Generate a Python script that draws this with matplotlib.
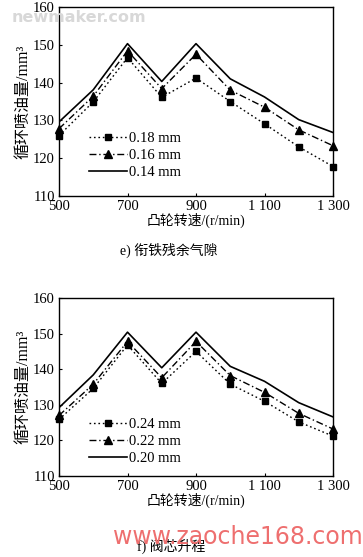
import matplotlib
matplotlib.use("Agg")
import matplotlib.pyplot as plt

plt.rcParams['font.family'] = ['Liberation Serif', 'Noto Sans CJK SC']
plt.rcParams['axes.unicode_minus'] = False

# cam speed (r/min)
speed = [500, 600, 700, 800, 900, 1000, 1100, 1200, 1300]
xtick_vals = [500, 700, 900, 1100, 1300]
xtick_labels = ["500", "700", "900", "1 100", "1 300"]
ytick_vals = [110, 120, 130, 140, 150, 160]

# e) armature residual air gap
gap_labels = ["0.18 mm", "0.16 mm", "0.14 mm"]
gap_018 = [126.0, 134.9, 146.6, 136.1, 141.2, 135.0, 129.1, 123.0, 117.8]
gap_016 = [127.8, 136.4, 148.4, 138.4, 147.5, 138.0, 133.5, 127.5, 123.3]
gap_014 = [129.6, 138.1, 150.3, 140.3, 150.3, 141.0, 136.2, 130.2, 126.8]

# f) valve lift
lift_labels = ["0.24 mm", "0.22 mm", "0.20 mm"]
lift_024 = [125.9, 134.6, 146.8, 136.0, 145.0, 135.8, 131.0, 125.2, 121.2]
lift_022 = [127.0, 135.8, 147.8, 137.6, 147.8, 138.2, 133.5, 127.6, 123.2]
lift_020 = [129.2, 138.4, 150.4, 140.4, 150.4, 140.8, 136.6, 130.6, 126.6]

fig = plt.figure(figsize=(3.63, 5.57), dpi=100)
W, H = 363, 557


def draw(ax, s1, s2, s3, labels):
    l1, = ax.plot(speed, s1, color='black', linestyle=(0, (1.2, 2.0)), linewidth=1.0,
                  marker='s', markersize=4.8, clip_on=False)
    l2, = ax.plot(speed, s2, color='black', linestyle=(0, (5, 2, 1, 2)), linewidth=1.0,
                  marker='^', markersize=5.2, clip_on=False)
    l3, = ax.plot(speed, s3, color='black', linestyle='-', linewidth=1.2)
    ax.set_xlim(500, 1300)
    ax.set_ylim(110, 160)
    ax.set_xticks(xtick_vals)
    ax.set_xticklabels(xtick_labels)
    ax.set_yticks(ytick_vals)
    ax.tick_params(direction='in', length=2, labelsize=10.5, pad=3)
    for sp in ax.spines.values():
        sp.set_linewidth(1.0)
    ax.set_ylabel("循环喷油量/mm³", fontsize=11.5, labelpad=1)
    ax.set_xlabel("凸轮转速/(r/min)", fontsize=10, labelpad=0)
    leg = ax.legend([l1, l2, l3], labels, loc='upper left', frameon=False, fontsize=10.5,
                    handlelength=2.6, handletextpad=0.15, labelspacing=0.25,
                    borderaxespad=0, borderpad=0)
    return leg


ax1 = fig.add_axes([59 / W, 1 - 196 / H, 274 / W, 189 / H])
leg1 = draw(ax1, gap_018, gap_016, gap_014, gap_labels)
leg1.set_bbox_to_anchor((89 / W, 1 - 132 / H), transform=fig.transFigure)

ax2 = fig.add_axes([59 / W, 1 - 476 / H, 274 / W, 178 / H])
leg2 = draw(ax2, lift_024, lift_022, lift_020, lift_labels)
leg2.set_bbox_to_anchor((89 / W, 1 - 418 / H), transform=fig.transFigure)

fig.text(169 / W, 1 - 250 / H, "e) 衔铁残余气隙", ha='center', va='center', fontsize=10)
fig.text(171 / W, 1 - 546 / H, "f) 阀芯升程", ha='center', va='center', fontsize=10)

# watermarks seen on the source picture
fig.text(12 / W, 1 - 17 / H, "newmaker.com", ha='left', va='center', fontsize=11.5,
         color='#d8d8d8', fontweight='bold', family='DejaVu Sans')
fig.text(1.0, 1 - 537 / H, "www.zaoche168.com", ha='right', va='center', fontsize=17,
         color='#ee6f6f', family='DejaVu Sans')

fig.savefig("out.png", dpi=100)
